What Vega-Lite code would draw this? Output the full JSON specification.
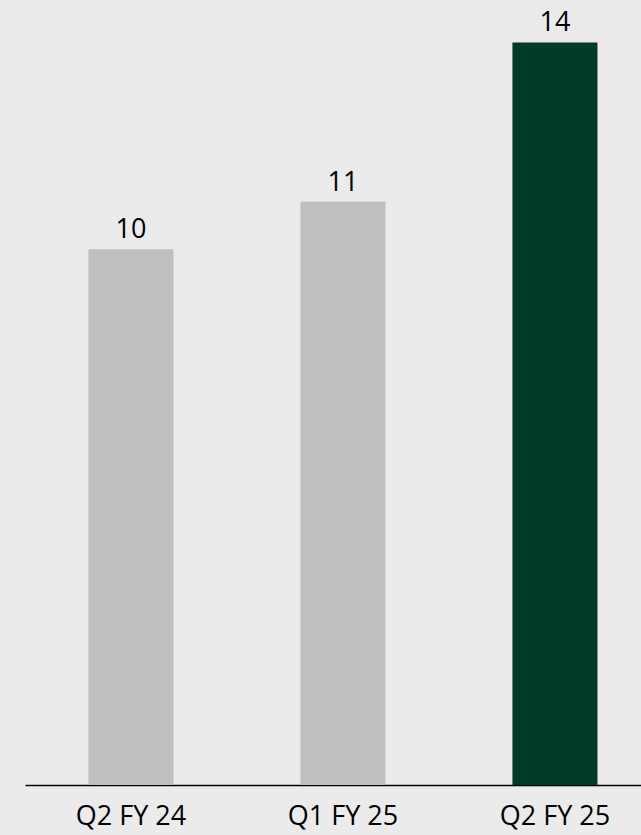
{
  "$schema": "https://vega.github.io/schema/vega-lite/v6.json",
  "autosize": "none",
  "padding": {"left": 25, "top": 0, "right": 0, "bottom": 50},
  "width": 616,
  "height": 785,
  "background": "#ebebeb",
  "config": {"view": {"stroke": null}, "font": "Open Sans"},
  "data": {"values": [
    {"period": "Q2 FY 24", "value": 10.1, "highlight": "no"},
    {"period": "Q1 FY 25", "value": 11.0, "highlight": "no"},
    {"period": "Q2 FY 25", "value": 14.0, "highlight": "yes"}
  ]},
  "encoding": {
    "x": {"field": "period", "type": "nominal", "sort": null,
      "scale": {"paddingInner": 0.599, "paddingOuter": 0.2524, "align": 0.593},
      "axis": {"title": null, "labelAngle": 0, "ticks": false, "domainColor": "#000000", "domainWidth": 1.5, "labelFontSize": 27, "labelColor": "#000000", "labelPadding": 39, "labelBaseline": "alphabetic", "labelFont": "Open Sans"}},
    "y": {"field": "value", "type": "quantitative", "scale": {"domain": [0, 14.8], "nice": false}, "axis": null}
  },
  "layer": [
    {"mark": {"type": "bar"},
     "encoding": {"color": {"field": "highlight", "type": "nominal", "scale": {"domain": ["no", "yes"], "range": ["#bfbfbf", "#003b25"]}, "legend": null}}},
    {"mark": {"type": "text", "baseline": "alphabetic", "dy": -11, "fontSize": 27, "color": "#000000", "font": "Open Sans"},
     "encoding": {"text": {"field": "value", "type": "quantitative", "format": ".0f"}}}
  ]
}
